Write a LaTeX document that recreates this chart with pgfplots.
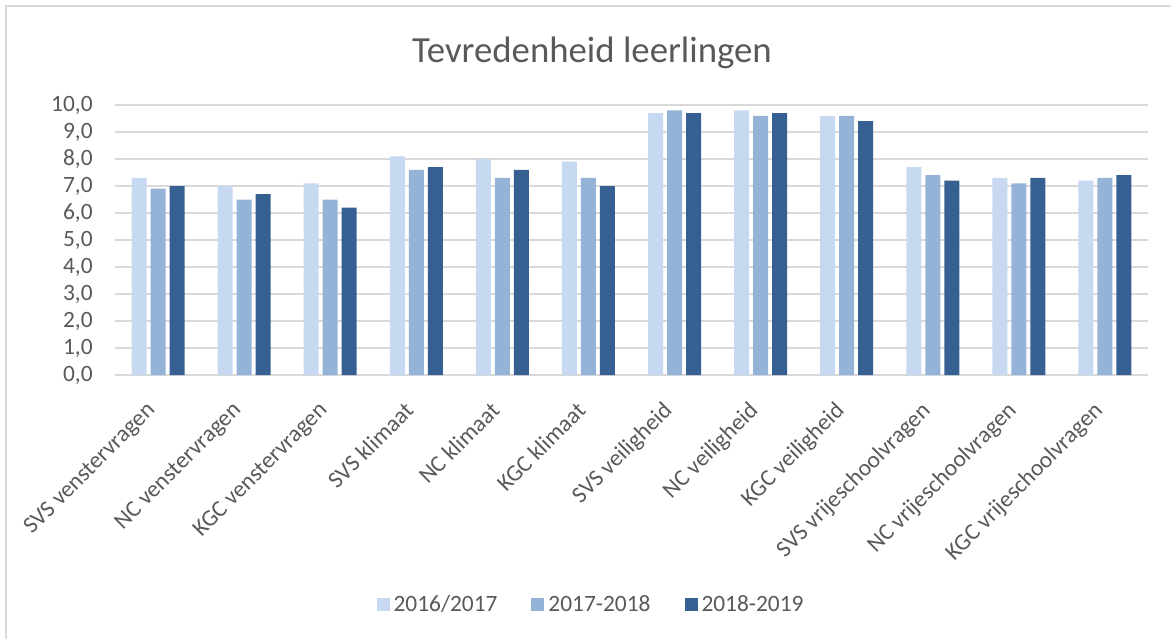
\documentclass[border=0pt]{standalone}
\usepackage{fontspec}
\setmainfont{Carlito}
\usepackage{pgfplots}
\pgfplotsset{compat=1.18}
\definecolor{cA}{HTML}{C6D9F0}
\definecolor{cB}{HTML}{95B3D7}
\definecolor{cC}{HTML}{366092}
\definecolor{txt}{HTML}{595959}
\definecolor{grd}{HTML}{D9D9D9}
\begin{document}
\begin{tikzpicture}[x=1pt,y=1pt]
\useasboundingbox (0,0) rectangle (585.5,319.5);
\draw[grd, line width=0.9pt] (3,0) -- (3,316.5) -- (585.5,316.5);
\node[txt, font=\fontsize{18.4}{22}\selectfont] at (296,293) {Tevredenheid leerlingen};
\begin{axis}[
  at={(57.5pt,132pt)}, anchor=south west,
  scale only axis, width=516.5pt, height=135pt,
  ybar=2pt, bar width=7.5pt,
  xmin=-0.5, xmax=11.5, ymin=0, ymax=10,
  xtick={0,...,11},
  xticklabels={SVS venstervragen,NC venstervragen,KGC venstervragen,SVS klimaat,NC klimaat,KGC klimaat,SVS veiligheid,NC veiligheid,KGC veiligheid,SVS vrijeschoolvragen,NC vrijeschoolvragen,KGC vrijeschoolvragen},
  ytick={0,1,...,10},
  major tick length=0pt,
  axis y line*=left, axis x line*=bottom,
  y axis line style={draw=none},
  x axis line style={grd, line width=0.75pt},
  ymajorgrids, grid style={grd, line width=0.75pt},
  tick label style={txt, font=\fontsize{11.7}{14}\selectfont},
  /pgf/number format/.cd, use comma, fixed, fixed zerofill, precision=1, assume math mode=true,
  /pgfplots/.cd,
  yticklabel style={anchor=east, inner sep=0pt, xshift=-11pt},
  xticklabel style={xshift=-6.5pt, yshift=-12.5pt, rotate=45, anchor=north east, inner sep=0pt},
  legend style={at={(0.4618,-0.85)}, anchor=center, draw=none, fill=none,
    legend columns=3, font=\fontsize{11.7}{14}\selectfont, text=txt,
    /tikz/every even column/.append style={column sep=15pt}},
  legend image code/.code={\fill[#1] (0pt,-3.25pt) rectangle (6.5pt,3.25pt);},
]
\addplot[fill=cA, draw=none] coordinates {(0,7.3) (1,7.0) (2,7.1) (3,8.1) (4,8.0) (5,7.9) (6,9.7) (7,9.8) (8,9.6) (9,7.7) (10,7.3) (11,7.2)};
\addplot[fill=cB, draw=none] coordinates {(0,6.9) (1,6.5) (2,6.5) (3,7.6) (4,7.3) (5,7.3) (6,9.8) (7,9.6) (8,9.6) (9,7.4) (10,7.1) (11,7.3)};
\addplot[fill=cC, draw=none] coordinates {(0,7.0) (1,6.7) (2,6.2) (3,7.7) (4,7.6) (5,7.0) (6,9.7) (7,9.7) (8,9.4) (9,7.2) (10,7.3) (11,7.4)};
\legend{2016/2017,2017-2018,2018-2019}
\end{axis}
\end{tikzpicture}
\end{document}
